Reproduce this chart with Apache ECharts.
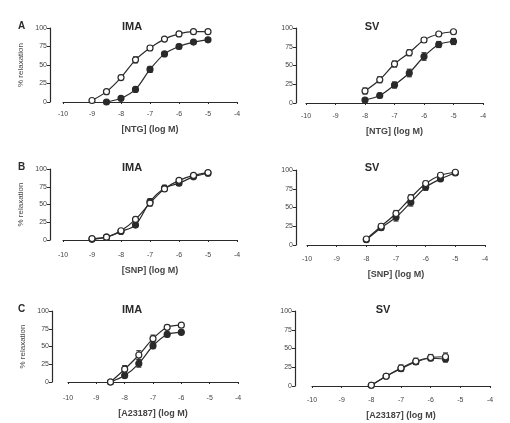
<!DOCTYPE html>
<html>
<head>
<meta charset="utf-8">
<title></title>
<script src="https://cdn.jsdelivr.net/npm/echarts@6/dist/echarts.min.js"></script>
<style>
  html, body { margin: 0; padding: 0; background: #fff; }
</style>
</head>
<body>
<div id="main" style="width:510px;height:423px;"></div>
<script type="text/javascript">
// tick labels
var xTicks = [-10, -9, -8, -7, -6, -5, -4];
var yTicks = [0, 25, 50, 75, 100];

// A: NTG
var ntgImaX = [-9, -8.5, -8, -7.5, -7, -6.5, -6, -5.5, -5];
var ntgImaOpen = [2, 14, 33, 57, 73, 85, 92, 95, 95];
var ntgImaOpenErr = [1, 2, 3, 4, 3, 2, 2, 1, 1];
var ntgImaFilledX = [-8.5, -8, -7.5, -7, -6.5, -6, -5.5, -5];
var ntgImaFilled = [0, 5, 17, 44, 65, 75, 81, 84];
var ntgImaFilledErr = [1, 1, 3, 4, 3, 3, 2, 2];
var ntgSvX = [-8, -7.5, -7, -6.5, -6, -5.5, -5];
var ntgSvOpen = [16, 31, 52, 67, 84, 92, 95];
var ntgSvOpenErr = [4, 4, 4, 4, 3, 2, 1];
var ntgSvFilled = [4, 10, 24, 40, 62, 78, 82];
var ntgSvFilledErr = [2, 3, 4, 5, 5, 4, 4];

// B: SNP
var snpImaX = [-9, -8.5, -8, -7.5, -7, -6.5, -6, -5.5, -5];
var snpImaOpen = [2, 4, 13, 29, 52, 72, 84, 91, 95];
var snpImaOpenErr = [1, 1, 2, 3, 4, 3, 2, 2, 1];
var snpImaFilled = [1, 4, 12, 21, 54, 73, 80, 89, 94];
var snpImaFilledErr = [1, 1, 2, 3, 4, 4, 3, 2, 1];
var snpSvX = [-8, -7.5, -7, -6.5, -6, -5.5, -5];
var snpSvOpen = [8, 25, 42, 63, 82, 93, 97];
var snpSvOpenErr = [2, 3, 4, 4, 3, 2, 1];
var snpSvFilled = [7, 23, 37, 57, 77, 88, 96];
var snpSvFilledErr = [2, 3, 5, 5, 4, 3, 1];

// C: A23187
var a23ImaX = [-8.5, -8, -7.5, -7, -6.5, -6];
var a23ImaOpen = [0, 18, 38, 61, 77, 80];
var a23ImaOpenErr = [1, 5, 6, 5, 3, 2];
var a23ImaFilled = [0, 9, 26, 51, 67, 70];
var a23ImaFilledErr = [1, 3, 5, 4, 3, 3];
var a23SvX = [-8, -7.5, -7, -6.5, -6, -5.5];
var a23SvOpen = [1, 13, 24, 33, 38, 39];
var a23SvOpenErr = [1, 2, 4, 4, 4, 5];
var a23SvFilled = [1, 13, 23, 32, 37, 36];
var a23SvFilledErr = [1, 2, 3, 3, 3, 4];

var ink = '#2a2a2a';
var font = 'Liberation Sans';

var panels = [
  { grid: { left: 63, top: 28, width: 174, height: 74 }, xo: 6, yo: 13, xname: '[NTG] (log M)', yname: true,
    open: [ntgImaX, ntgImaOpen, ntgImaOpenErr], filled: [ntgImaFilledX, ntgImaFilled, ntgImaFilledErr] },
  { grid: { left: 306, top: 28, width: 177, height: 75 }, xo: 7, yo: 10, xname: '[NTG] (log M)', yname: false,
    open: [ntgSvX, ntgSvOpen, ntgSvOpenErr], filled: [ntgSvX, ntgSvFilled, ntgSvFilledErr] },
  { grid: { left: 63, top: 169, width: 174, height: 71 }, xo: 9, yo: 13, xname: '[SNP] (log M)', yname: true,
    open: [snpImaX, snpImaOpen, snpImaOpenErr], filled: [snpImaX, snpImaFilled, snpImaFilledErr] },
  { grid: { left: 307, top: 170, width: 178, height: 75 }, xo: 8, yo: 11, xname: '[SNP] (log M)', yname: false,
    open: [snpSvX, snpSvOpen, snpSvOpenErr], filled: [snpSvX, snpSvFilled, snpSvFilledErr] },
  { grid: { left: 68, top: 311, width: 170, height: 71 }, xo: 10, yo: 16, xname: '[A23187] (log M)', yname: true,
    open: [a23ImaX, a23ImaOpen, a23ImaOpenErr], filled: [a23ImaX, a23ImaFilled, a23ImaFilledErr] },
  { grid: { left: 312, top: 311, width: 178, height: 75 }, xo: 8, yo: 17, xname: '[A23187] (log M)', yname: false,
    open: [a23SvX, a23SvOpen, a23SvOpenErr], filled: [a23SvX, a23SvFilled, a23SvFilledErr] }
];

function pairs(xs, ys) {
  return xs.map(function (x, i) { return [x, ys[i]]; });
}
function errs(xs, ys, es) {
  return xs.map(function (x, i) { return [x, ys[i] - es[i], ys[i] + es[i]]; });
}

function renderErr(params, api) {
  var top = api.coord([api.value(0), api.value(2)]);
  var bot = api.coord([api.value(0), api.value(1)]);
  var w = 2.5;
  var st = { stroke: ink, lineWidth: 1.2 };
  return {
    type: 'group',
    children: [
      { type: 'line', shape: { x1: top[0], y1: top[1], x2: bot[0], y2: bot[1] }, style: st },
      { type: 'line', shape: { x1: top[0] - w, y1: top[1], x2: top[0] + w, y2: top[1] }, style: st },
      { type: 'line', shape: { x1: bot[0] - w, y1: bot[1], x2: bot[0] + w, y2: bot[1] }, style: st }
    ]
  };
}

var grids = [], xAxes = [], yAxes = [], series = [];
panels.forEach(function (p, i) {
  grids.push(p.grid);
  xAxes.push({
    type: 'value', gridIndex: i, min: xTicks[0], max: xTicks[xTicks.length - 1], interval: 1,
    offset: p.xo,
    name: p.xname, nameLocation: 'middle', nameGap: 17,
    nameTextStyle: { fontFamily: font, fontSize: 9, fontWeight: 'bold', color: '#444' },
    axisLine: { lineStyle: { color: ink, width: 1.2 } },
    axisTick: { length: 2, lineStyle: { color: ink } },
    axisLabel: { fontFamily: font, fontSize: 7, color: '#444', margin: 3 },
    splitLine: { show: false }
  });
  yAxes.push({
    type: 'value', gridIndex: i, min: yTicks[0], max: yTicks[yTicks.length - 1], interval: 25,
    offset: p.yo,
    name: p.yname ? '% relaxation' : '', nameLocation: 'middle', nameGap: 25, nameRotate: 90,
    nameTextStyle: { fontFamily: font, fontSize: 8, color: '#444' },
    axisLine: { show: true, lineStyle: { color: ink, width: 1.2 } },
    axisTick: { show: true, length: 3, lineStyle: { color: ink } },
    axisLabel: { fontFamily: font, fontSize: 7, color: '#444', margin: 3 },
    splitLine: { show: false }
  });
  [['filled', ink], ['open', '#fff']].forEach(function (s, k) {
    var d = p[s[0]];
    series.push({
      type: 'custom', xAxisIndex: i, yAxisIndex: i, z: 2 + k * 2,
      renderItem: renderErr, data: errs(d[0], d[1], d[2]), silent: true
    });
    series.push({
      type: 'line', xAxisIndex: i, yAxisIndex: i, z: 3 + k * 2,
      data: pairs(d[0], d[1]), smooth: 0.3,
      symbol: 'circle', symbolSize: 6,
      itemStyle: { color: s[1], borderColor: ink, borderWidth: 1.2 },
      lineStyle: { color: ink, width: 1.2 },
      animation: false
    });
  });
});

var titleStyle = { fontFamily: font, fontSize: 11, fontWeight: 'bold', color: ink };
var letterStyle = { fontFamily: font, fontSize: 10, fontWeight: 'bold', color: ink };

var option = {
  backgroundColor: '#fff',
  animation: false,
  title: [
    { text: 'IMA', left: 127, top: 16, textAlign: 'center', textStyle: titleStyle },
    { text: 'SV', left: 367, top: 16, textAlign: 'center', textStyle: titleStyle },
    { text: 'IMA', left: 127, top: 157, textAlign: 'center', textStyle: titleStyle },
    { text: 'SV', left: 367, top: 157, textAlign: 'center', textStyle: titleStyle },
    { text: 'IMA', left: 127, top: 299, textAlign: 'center', textStyle: titleStyle },
    { text: 'SV', left: 378, top: 299, textAlign: 'center', textStyle: titleStyle },
    { text: 'A', left: 13, top: 16, textStyle: letterStyle },
    { text: 'B', left: 13, top: 157, textStyle: letterStyle },
    { text: 'C', left: 13, top: 299, textStyle: letterStyle }
  ],
  grid: grids,
  xAxis: xAxes,
  yAxis: yAxes,
  series: series
};

var myChart = echarts.init(document.getElementById('main'));
myChart.setOption(option);
</script>
</body>
</html>
